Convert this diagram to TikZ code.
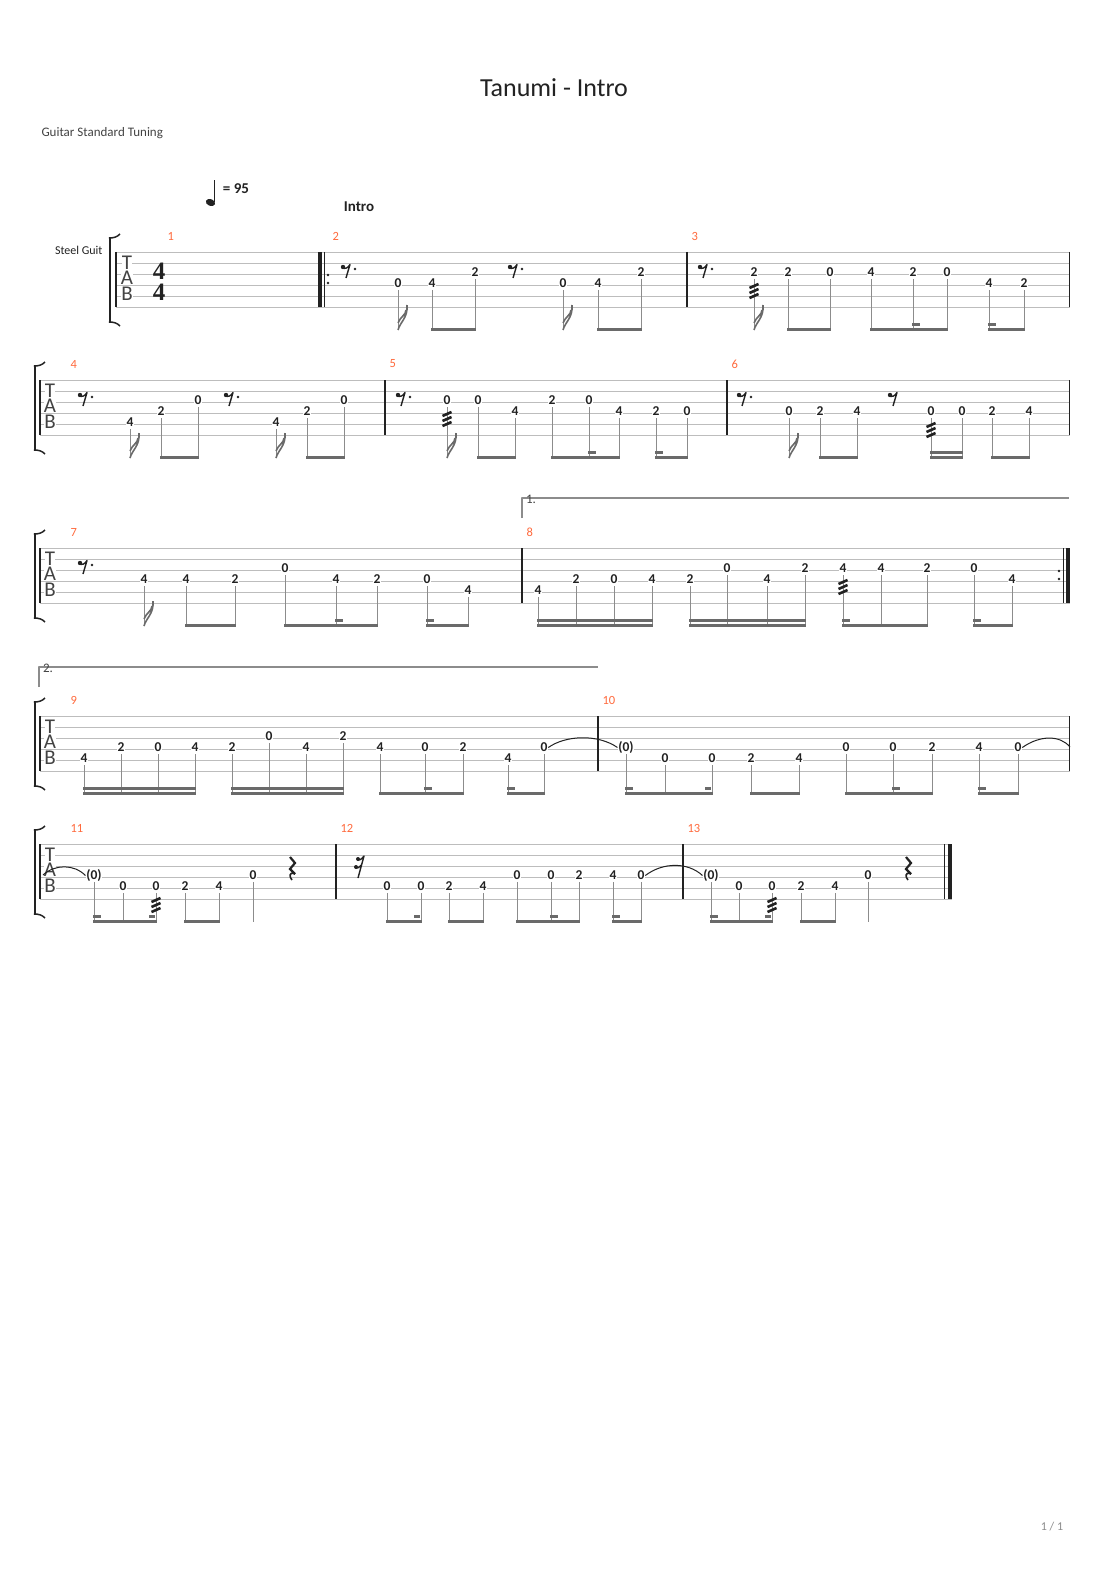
\documentclass[tikz,border=0pt]{standalone}
\usepackage{fontspec}
\setmainfont{Carlito}
\newfontfamily\sigfont{Liberation Serif}
\definecolor{numorange}{HTML}{FF6A3D}
\definecolor{staffgray}{HTML}{BDBDBD}
\definecolor{stemgray}{HTML}{8C8C8C}
\definecolor{beamgray}{HTML}{6A6A6A}
\definecolor{inkdark}{HTML}{222222}
\begin{document}
\begin{tikzpicture}[x=1pt,y=-1pt,line join=round,
	staffline/.style={staffgray,line width=0.9},
	barline/.style={inkdark,line width=1.2},
	fret/.style={fill=white,inner sep=0.7pt,text=inkdark,font=\fontsize{13.5}{14}\selectfont\bfseries},
	stemline/.style={stemgray,line width=1},
	beambar/.style={fill=beamgray},
	tieline/.style={inkdark,line width=1},
	barnum/.style={anchor=west,text=numorange,font=\fontsize{12.5}{13}\selectfont},
	tabletter/.style={fill=white,inner sep=0pt,text height=12pt,text depth=0pt,text=inkdark!85,font=\fontsize{21}{21}\selectfont},
	sigdigit/.style={inner sep=0pt,text=inkdark,font=\fontsize{25}{25}\selectfont\sigfont\bfseries},
	voltaline/.style={stemgray,line width=1.3},
	flag/.pic={\draw[beamgray,line width=1.6] (0,0) .. controls (2,-8) and (10,-12) .. (9,-25) (0,-7) .. controls (2,-13) and (8,-15) .. (8,-20);},
	trem/.pic={\foreach \yy in {12,17,22} \draw[inkdark,line width=2.6] (-4.5,\yy+2) -- (4.5,\yy-2);},
	erest/.pic={\fill[inkdark] (-3,-4) circle (2.2); \draw[inkdark,line width=1.4] (-4,-3.5) .. controls (-1,-1.5) and (2,-3) .. (4,-6.5) -- (0,7);},
	srest/.pic={\fill[inkdark] (-1,-8) circle (2); \fill[inkdark] (-3,0) circle (2);
		\draw[inkdark,line width=1.4] (-2,-7.5) .. controls (0,-6) and (3,-8) .. (5,-11) -- (-1,11) (-4,0.5) .. controls (-2,2) and (1,0) .. (2.5,-2);},
	qrest/.pic={\draw[inkdark,line width=2.2,line join=miter] (-2,-11) -- (3,-5) -- (-2,1) -- (3,6); \draw[inkdark,line width=1.6] (3,6) .. controls (-3,3) and (-3,9) .. (0,12);},
	tabbracket/.pic={\draw[inkdark,line width=2.4] (0,-14) -- (0,70);
		\draw[inkdark,line width=1.5] (-1.2,-14) .. controls (4,-14) and (7,-15) .. (10,-18) (-1.2,70) .. controls (4,70) and (7,71) .. (10,74);}]
\fill[white] (0,0) rectangle (1110,1570);
\useasboundingbox (0,0) rectangle (1110,1570);
% header
\node[font=\fontsize{26}{30}\selectfont,text=inkdark] (title) at (554,88) {Tanumi - Intro};
\node[anchor=west,font=\fontsize{13}{15}\selectfont,text=inkdark!85] (tuning) at (38,133) {Guitar Standard Tuning};
\fill[inkdark,rotate around={-20:(210.5,202.5)}] (210.5,202.5) ellipse [x radius=4.8,y radius=3.4];
\draw[inkdark,line width=1.1] (214.5,202) -- (214.5,180.5);
\node[font=\fontsize{15}{16}\selectfont\bfseries,text=inkdark] (tempo) at (236,189) {= 95};
\node[font=\fontsize{15}{16}\selectfont\bfseries,text=inkdark] (intro) at (359,207) {Intro};
\node[font=\fontsize{12}{13}\selectfont,text=stemgray] (page) at (1052,1527) {1 / 1};

% system 1
\begin{scope}[shift={(0,252)}]
	\foreach \s in {0,...,5} \draw[staffline] (116,11*\s) -- (1070,11*\s);
	\pic at (110,0) {tabbracket};
	\node[anchor=east,font=\fontsize{12}{13}\selectfont,text=inkdark] (inst) at (106,-2) {Steel Guit};
	\node[tabletter] (s1T) at (127,11.5) {T};
	\node[tabletter] (s1A) at (127,26.5) {A};
	\node[tabletter] (s1B) at (127,42.5) {B};
	\node[sigdigit] (sigtop) at (159,19.5) {4};
	\node[sigdigit] (sigbot) at (159,40) {4};
	\foreach \x in {116,687,1069.5} \draw[barline] (\x,0) -- (\x,55);
	\fill[inkdark] (317.5,0) rectangle (322,55);
	\draw[barline,line width=1] (324.5,0) -- (324.5,55);
	\foreach \y in {23,31} \fill[inkdark] (328,\y) circle (1.4);
	\foreach \x/\n in {164/1,329/2,688/3} \node[barnum] (m\n) at (\x,-16) {\n};
	\foreach \x in {346,513,703} {\pic at (\x,19) {erest}; \fill[inkdark] (\x+9,17) circle (1.3);}
	\foreach \x/\s/\f in {398/4/0,432/4/4,475/3/2,563/4/0,598/4/4,641/3/2,754/3/2,788/3/2,830/3/0,871/3/4,913/3/2,947/3/0,989/4/4,1024/4/2}
		{\node[fret] (s1n\x) at (\x,{11*\s-12.5}) {\f}; \draw[stemline] (\x,{11*\s-6}) -- (\x,78);}
	\foreach \a/\b in {432/475,598/641,788/830,871/947,989/1024} \fill[beambar] (\a-0.6,76) rectangle (\b+0.6,79);
	\foreach \x/\d in {913/7,989/7} \fill[beambar] (\x-0.6,70.5) rectangle (\x+\d,73.5);
	\foreach \x in {398,563,754} \pic at (\x,78) {flag};
	\pic at (754,22) {trem};
\end{scope}

% system 2
\begin{scope}[shift={(0,380)}]
	\foreach \s in {0,...,5} \draw[staffline] (40,11*\s) -- (1070,11*\s);
	\pic at (35,0) {tabbracket};
	\node[tabletter] (s2T) at (50,11.5) {T};
	\node[tabletter] (s2A) at (50,26.5) {A};
	\node[tabletter] (s2B) at (50,42.5) {B};
	\foreach \x in {40,385,727,1069.5} \draw[barline] (\x,0) -- (\x,55);
	\foreach \x/\n in {67/4,386/5,728/6} \node[barnum] (m\n) at (\x,-16) {\n};
	\foreach \x in {83,229,401,742} {\pic at (\x,19) {erest}; \fill[inkdark] (\x+9,17) circle (1.3);}
	\pic at (893,19) {erest};
	\foreach \x/\s/\f in {130/5/4,161/4/2,198/3/0,276/5/4,307/4/2,344/3/0,447/3/0,478/3/0,515/4/4,552/3/2,589/3/0,619/4/4,656/4/2,687/4/0,789/4/0,820/4/2,857/4/4,931/4/0,962/4/0,992/4/2,1029/4/4}
		{\node[fret] (s2n\x) at (\x,{11*\s-12.5}) {\f}; \draw[stemline] (\x,{11*\s-6}) -- (\x,78);}
	\foreach \a/\b in {161/198,307/344,478/515,552/619,656/687,820/857,931/962,992/1029} \fill[beambar] (\a-0.6,76) rectangle (\b+0.6,79);
	\fill[beambar] (930.4,70.5) rectangle (962.6,73.5);
	\foreach \x/\d in {589/7,656/7} \fill[beambar] (\x-0.6,70.5) rectangle (\x+\d,73.5);
	\foreach \x in {130,276,447,789} \pic at (\x,78) {flag};
	\pic at (447,22) {trem};
	\pic at (931,33) {trem};
\end{scope}

% system 3
\begin{scope}[shift={(0,548)}]
	\draw[voltaline] (522,-30) -- (522,-50) -- (1069,-50);
	\node[font=\fontsize{13}{14}\selectfont,text=inkdark!85,inner sep=0pt] (volta1) at (531,-49) {1.};
	\foreach \s in {0,...,5} \draw[staffline] (40,11*\s) -- (1070,11*\s);
	\pic at (35,0) {tabbracket};
	\node[tabletter] (s3T) at (50,11.5) {T};
	\node[tabletter] (s3A) at (50,26.5) {A};
	\node[tabletter] (s3B) at (50,42.5) {B};
	\foreach \x in {40,522} \draw[barline] (\x,0) -- (\x,55);
	\draw[barline,line width=1] (1063.5,0) -- (1063.5,55);
	\fill[inkdark] (1066,0) rectangle (1070,55);
	\foreach \y in {23,31} \fill[inkdark] (1059,\y) circle (1.4);
	\foreach \x/\n in {67/7,523/8} \node[barnum] (m\n) at (\x,-16) {\n};
	\pic at (83,19) {erest}; \fill[inkdark] (92,17) circle (1.3);
	\foreach \x/\s/\f in {144/4/4,186/4/4,235/4/2,285/3/0,336/4/4,377/4/2,427/4/0,468/5/4,538/5/4,576/4/2,614/4/0,652/4/4,690/4/2,727/3/0,767/4/4,805/3/2,843/3/4,881/3/4,927/3/2,974/3/0,1012/4/4}
		{\node[fret] (s3n\x) at (\x,{11*\s-12.5}) {\f}; \draw[stemline] (\x,{11*\s-6}) -- (\x,78);}
	\foreach \a/\b in {186/235,285/377,427/468,538/652,690/805,843/927,974/1012} \fill[beambar] (\a-0.6,76) rectangle (\b+0.6,79);
	\foreach \a/\b in {538/652,690/805} \fill[beambar] (\a-0.6,70.5) rectangle (\b+0.6,73.5);
	\foreach \x/\d in {336/7,427/7,843/7,974/7} \fill[beambar] (\x-0.6,70.5) rectangle (\x+\d,73.5);
	\pic at (144,78) {flag};
	\pic at (843,22) {trem};
\end{scope}

% system 4
\begin{scope}[shift={(0,716)}]
	\draw[voltaline] (39,-29) -- (39,-49) -- (598,-49);
	\node[font=\fontsize{13}{14}\selectfont,text=inkdark!85,inner sep=0pt] (volta2) at (48,-48) {2.};
	\foreach \s in {0,...,5} \draw[staffline] (40,11*\s) -- (1070,11*\s);
	\pic at (35,0) {tabbracket};
	\node[tabletter] (s4T) at (50,11.5) {T};
	\node[tabletter] (s4A) at (50,26.5) {A};
	\node[tabletter] (s4B) at (50,42.5) {B};
	\foreach \x in {40,598,1069.5} \draw[barline] (\x,0) -- (\x,55);
	\foreach \x/\n in {67/9,599/10} \node[barnum] (m\n) at (\x,-16) {\n};
	\foreach \x/\s/\f in {84/5/4,121/4/2,158/4/0,195/4/4,232/4/2,269/3/0,306/4/4,343/3/2,380/4/4,425/4/0,463/4/2,508/5/4,544/4/0,626/4/(0),665/5/0,712/5/0,751/5/2,799/5/4,846/4/0,893/4/0,932/4/2,979/4/4,1018/4/0}
		{\node[fret] (s4n\x) at (\x,{11*\s-12.5}) {\f}; \draw[stemline] (\x,{11*\s-6}) -- (\x,78);}
	\foreach \a/\b in {84/195,232/343,380/463,508/544,626/712,751/799,846/932,979/1018} \fill[beambar] (\a-0.6,76) rectangle (\b+0.6,79);
	\foreach \a/\b in {84/195,232/343} \fill[beambar] (\a-0.6,70.5) rectangle (\b+0.6,73.5);
	\foreach \x/\d in {425/7,508/7,626/7,712/-7,893/7,979/7} \fill[beambar] (\x-0.6,70.5) rectangle (\x+\d,73.5);
	\draw[tieline] (s4n544.east) .. controls (566,19) and (598,18) .. (s4n626.west);
	\coordinate (tieout) at (1070,31);
	\draw[tieline] (s4n1018.east) .. controls (1040,19) and (1060,19) .. (tieout);
\end{scope}

% system 5
\begin{scope}[shift={(0,844)}]
	\foreach \s in {0,...,5} \draw[staffline] (40,11*\s) -- (951.5,11*\s);
	\pic at (35,0) {tabbracket};
	\node[tabletter] (s5T) at (50,11.5) {T};
	\node[tabletter] (s5A) at (50,26.5) {A};
	\node[tabletter] (s5B) at (50,42.5) {B};
	\foreach \x in {40,336,683} \draw[barline] (\x,0) -- (\x,55);
	\draw[barline,line width=1] (944,0) -- (944,55);
	\fill[inkdark] (947.5,0) rectangle (951.5,55);
	\foreach \x/\n in {67/11,337/12,684/13} \node[barnum] (m\n) at (\x,-16) {\n};
	\foreach \x in {292,908} \pic at (\x,24) {qrest};
	\pic at (359,23) {srest};
	\foreach \x/\s/\f in {94/4/(0),123/5/0,156/5/0,185/5/2,219/5/4,253/4/0,387/5/0,421/5/0,449/5/2,483/5/4,517/4/0,551/4/0,579/4/2,613/4/4,641/4/0,711/4/(0),739/5/0,772/5/0,801/5/2,835/5/4,868/4/0}
		{\node[fret] (s5n\x) at (\x,{11*\s-12.5}) {\f}; \draw[stemline] (\x,{11*\s-6}) -- (\x,78);}
	\foreach \a/\b in {94/156,185/219,387/421,449/483,517/579,613/641,711/772,801/835} \fill[beambar] (\a-0.6,76) rectangle (\b+0.6,79);
	\foreach \x/\d in {94/7,156/-7,421/-7,551/7,613/7,711/7,772/-7} \fill[beambar] (\x-0.6,70.5) rectangle (\x+\d,73.5);
	\pic at (156,44) {trem};
	\pic at (772,44) {trem};
	\coordinate (tiein) at (43,31);
	\draw[tieline] (tiein) .. controls (55,20) and (74,20) .. (s5n94.west);
	\draw[tieline] (s5n641.east) .. controls (663,18) and (688,18) .. (s5n711.west);
\end{scope}
\end{tikzpicture}
\end{document}
